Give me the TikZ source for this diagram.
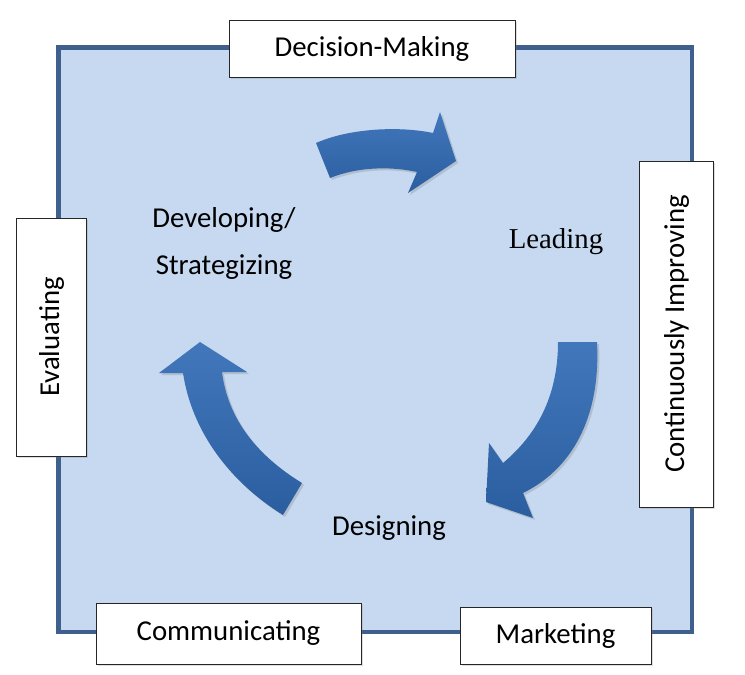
\documentclass[tikz,border=0pt]{standalone}
\usepackage{fontspec}
\setmainfont{Carlito}
\newfontfamily\timesfont{Liberation Serif}
\usetikzlibrary{shadows}
\definecolor{sqfill}{HTML}{C6D9F1}
\definecolor{sqdraw}{HTML}{3F5F8C}
\definecolor{arrlight}{HTML}{4277BC}
\definecolor{arrdark}{HTML}{2A5E9F}
\tikzset{
  labelbox/.style={draw=black!85, line width=1pt, fill=white, inner sep=0pt,
    font=\fontsize{28.8}{32}\selectfont,
    drop shadow={opacity=0.25, shadow xshift=1.5pt, shadow yshift=-1.5pt}},
  bigarrow/.style={top color=arrlight, bottom color=arrdark, draw=none,
    drop shadow={opacity=0.3, shadow xshift=2pt, shadow yshift=-2pt}},
  phase/.style={font=\fontsize{28.8}{32}\selectfont, inner sep=0pt},
}
\begin{document}
\begin{tikzpicture}[x=1pt,y=-1pt]
\useasboundingbox (0,0) rectangle (745,675);
% square
\draw[sqdraw, fill=sqfill, line width=4.5pt,
  drop shadow={opacity=0.3, shadow xshift=1.5pt, shadow yshift=-1.5pt}]
  (58.5,47.5) rectangle (692,632);
% arrows
\path[bigarrow] (316,143) .. controls (350,128) and (400,126) .. (433,133)
  -- (440,112) -- (456,161) -- (408,193) -- (417,172)
  .. controls (390,166) and (357,167) .. (330,178) -- cycle;
\path[bigarrow] (558,342) -- (597,342)
  .. controls (601,420) and (570,470) .. (523,493)
  -- (533,518) -- (486,502) -- (489,443) -- (503,463)
  .. controls (540,432) and (558,392) .. (558,342);
\path[bigarrow] (200,342) -- (247,372) -- (222,372)
  .. controls (228,420) and (258,456) .. (302,483)
  -- (283,515) .. controls (230,482) and (192,432) .. (183,373)
  -- (159,373) -- cycle;
% boxes
\node[labelbox, minimum width=286pt, minimum height=57pt] (dm) at (372,48.5) {Decision-Making};
\node[labelbox, minimum width=346pt, minimum height=74pt, rotate=90] (ci) at (676.5,334) {Continuously Improving};
\node[labelbox, minimum width=238pt, minimum height=70pt, rotate=90] (ev) at (51.5,337) {Evaluating};
\node[labelbox, minimum width=265pt, minimum height=61pt] (co) at (228.5,633.5) {Communicating};
\node[labelbox, minimum width=191pt, minimum height=57pt] (mk) at (555.5,635.5) {Marketing};
% phase labels
\node[phase, align=center] (dev) at (224,243) {Developing/\\[15pt]Strategizing};
\node[phase, font=\fontsize{28.8}{32}\selectfont\timesfont] (lead) at (556,242) {Leading};
\node[phase] (des) at (389,528) {Designing};
\end{tikzpicture}
\end{document}
